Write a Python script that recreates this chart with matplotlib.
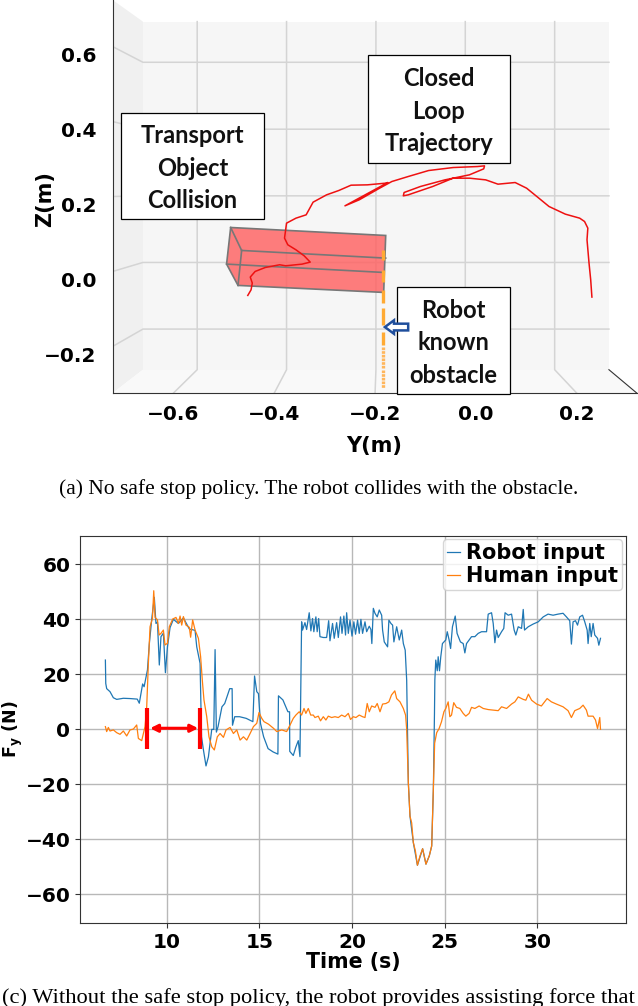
import numpy as np
import matplotlib
matplotlib.use('Agg')
import matplotlib.pyplot as plt
from matplotlib.patches import Polygon, Rectangle, FancyArrow
from matplotlib.transforms import ScaledTranslation

# top panel: trajectory in the Y-Z view (m)
traj_y = [-0.4526,-0.4461,-0.4437,-0.4477,-0.438,-0.4178,-0.3894,-0.3773,-0.3449,-0.3287,-0.3408,-0.357,-0.3732,-0.3797,-0.3757,-0.357,-0.3368,-0.323,-0.2963,-0.272,-0.2477,-0.2153,-0.1789,-0.1748,-0.2598,-0.2315,-0.191,-0.1667,-0.1343,-0.0938,-0.0452,0.0034,0.0172,0.0156,-0.0128,-0.0614,-0.11,-0.1424,-0.144,-0.1343,-0.0857,-0.0452,-0.0128,0.0196,0.0439,0.078,0.1007,0.125,0.1452,0.1776,0.206,0.2157,0.2222,0.2206,0.2246,0.2279,0.2303]
traj_z = [-0.064,-0.049,-0.031,-0.015,0.0,0.0106,0.0178,0.0151,0.0195,0.0249,0.0418,0.0577,0.0711,0.0889,0.1289,0.1422,0.1511,0.1849,0.2044,0.216,0.2302,0.2311,0.2356,0.2373,0.1751,0.1911,0.2222,0.24,0.2533,0.2693,0.2773,0.28,0.2818,0.2738,0.2578,0.2444,0.2267,0.2107,0.2018,0.2044,0.2267,0.2489,0.2489,0.2444,0.2329,0.2373,0.2222,0.1956,0.1733,0.1529,0.1422,0.1333,0.1156,0.0844,0.0222,-0.0222,-0.0684]

box_outline = [(-0.4866,0.1173),(-0.1789,0.096),(-0.1829,-0.056),(-0.472,-0.0373),(-0.4947,0.0196)]
box_edges = [[(-0.4866,0.1173),(-0.4648,0.056)],
             [(-0.4648,0.056),(-0.1789,0.0356)],
             [(-0.4947,0.0196),(-0.1829,-0.0027)],
             [(-0.4648,0.056),(-0.472,-0.0373)]]

obstacle_y = [-0.1837,-0.1837,np.nan,-0.1837,-0.1837,np.nan,-0.1837,-0.1837,np.nan,-0.1837,-0.1837,np.nan,-0.1837,-0.1837]
obstacle_z = [0.0579,0.0312,np.nan,0.0045,-0.0275,np.nan,-0.0488,-0.0835,np.nan,-0.0968,-0.1421,np.nan,-0.1608,-0.1955]
obstacle_y2 = [-0.1837,-0.1837,np.nan,-0.1837,-0.1837]
obstacle_z2 = [-0.2008,-0.2568,np.nan,-0.2621,-0.3101]

y_ticks = [-0.6,-0.4,-0.2,0.0,0.2]
z_ticks = [0.6,0.4,0.2,0.0,-0.2]
back_y = [-0.553,-0.3757,-0.1983,-0.021,0.1564]
back_z = [0.5582,0.3796,0.2018,0.024,-0.1538]

# bottom panel: forces (N) over time (s)
robot_t = [6.69,6.71,6.76,6.94,7.12,7.30,7.66,8.02,8.41,8.52,8.70,8.78,8.96,9.06,9.19,9.33,9.42,9.50,9.60,9.69,9.82,9.93,10.04,10.18,10.36,10.63,10.90,11.22,11.53,11.62,11.80,11.88,11.97,12.12,12.25,12.43,12.54,12.61,12.68,12.77,12.98,13.13,13.40,13.53,13.55,13.67,13.93,14.29,14.65,14.74,14.86,14.95,15.06,15.23,15.47,15.74,16.0,16.03,16.27,16.54,16.63,16.64,16.83,16.97,17.10,17.19,
           17.28,17.33,17.46,17.55,17.69,17.78,17.87,17.94,18.05,18.12,18.20,18.27,18.45,18.63,18.74,18.81,18.95,19.04,19.17,19.26,19.38,19.46,19.56,19.65,19.71,19.80,19.89,20.0,20.10,20.19,20.30,20.39,20.48,20.57,20.70,20.79,20.93,21.02,21.07,21.15,21.24,21.36,21.47,21.60,21.65,21.74,21.92,21.99,22.10,22.19,22.26,22.41,22.55,22.68,22.77,22.87,22.95,
           23.04,23.13,23.31,23.53,23.81,23.99,24.17,24.30,24.39,24.45,24.47,24.52,24.60,24.65,24.72,24.79,24.88,24.96,25.06,25.14,25.24,25.32,25.42,25.57,25.67,25.85,26.0,26.09,26.18,26.32,26.45,26.63,26.81,26.99,27.26,27.35,27.53,27.62,27.71,27.80,27.89,28.07,28.19,28.26,28.43,28.61,28.75,28.84,28.97,29.15,29.24,29.31,29.51,29.78,30.05,30.32,30.58,30.85,31.12,31.39,31.57,31.75,31.84,31.93,32.06,32.17,32.29,32.44,32.56,32.69,32.74,32.83,32.91,33.01,33.10,33.25,33.32,33.41]
robot_f = [25.2,16.7,14.8,13.7,11.5,10.9,11.3,11.2,11,9.5,16.5,15.5,21.6,31,40,48,38.5,39,23.4,33.7,35,20.6,30,37,40,38.5,40.5,36.5,36,30,24,-2.7,-7,-13.3,-10,0,0,29,-1,1,8.2,9.4,14.8,14.8,1.5,4.6,4.6,4,2.8,19.4,13.7,13,2.2,-2.7,-7,-8.2,-9,12.2,10.7,6.4,6.4,-8,-9.5,-6.4,-4.1,-9.9,
           39.1,36.1,38.8,36.3,42.4,35.8,40.3,35.5,40.9,35.5,40.3,33.7,33.4,33.4,39.5,32.2,38.5,33.1,38.8,33.4,40.9,34.9,41.2,34.3,42.4,34.9,39.7,33.9,39.1,34.6,39.7,34.9,40,34.9,39.1,35.5,37.5,36.3,31.2,44,42.2,40.9,43.4,41.5,36.1,31.8,30,39.7,38.5,37.9,31.8,37.3,32.5,36.1,31.2,28.8,17.9,
           -19.5,-31.6,-41.2,-49.4,-43.4,-49,-46,-42.4,-21.9,5.8,17.9,25.2,21.3,26.4,21.3,26.4,31.2,31.8,32.5,35.5,32.5,29.4,37.3,41.2,34.9,31.8,31.2,27.8,31.2,32.5,33.7,33.7,34.9,35.5,35.5,41.9,42.4,38.5,31.5,36.1,33.4,35.5,36.7,42.4,41.5,41.9,36.1,34.3,37.3,36.7,43.6,36.1,37.3,38.3,39.1,40.9,41.9,41.5,41.9,42.2,40.9,39.5,31,39.1,39.5,37.9,40.9,41.5,39.1,36.1,31.2,38.5,33.7,38.5,34.3,33.1,30.6,33.1]

human_t = [6.69,6.76,6.85,6.94,7.12,7.30,7.48,7.66,7.84,8.02,8.20,8.38,8.47,8.65,8.83,8.92,9.01,9.10,9.23,9.30,9.37,9.50,9.59,9.69,9.82,9.91,10.04,10.14,10.32,10.50,10.63,10.72,10.81,10.90,11.04,11.22,11.29,11.40,11.53,11.71,11.83,11.92,12.01,12.16,12.28,12.43,12.57,12.73,12.88,13.06,13.20,13.42,13.60,13.78,13.96,14.14,14.32,14.50,14.68,14.86,14.98,15.13,15.25,15.49,15.76,15.94,16.21,16.47,
           16.65,16.83,16.97,17.15,17.28,17.41,17.51,17.64,17.77,17.91,18.0,18.18,18.30,18.45,18.59,18.72,18.90,19.08,19.26,19.44,19.62,19.80,19.92,20.07,20.21,20.39,20.57,20.70,20.82,20.93,21.06,21.24,21.36,21.51,21.65,21.83,21.99,22.13,22.31,22.41,22.59,22.77,22.89,
           22.95,23.04,23.13,23.22,23.31,23.42,23.53,23.67,23.81,23.99,24.17,24.30,24.39,24.46,24.57,
           24.70,24.83,24.96,25.06,25.19,25.28,25.37,25.49,25.64,25.82,26.0,26.14,26.32,26.45,26.63,26.86,27.08,27.35,27.62,27.89,28.07,28.34,28.61,28.79,28.97,29.24,29.38,29.52,29.69,29.96,30.22,30.53,30.76,31.03,31.39,31.66,31.84,32.02,32.29,32.47,32.65,32.74,33.01,33.14,33.25,33.37,33.41]
human_f = [1.0,-0.8,0.7,-0.6,-0.2,-1.2,-1.8,-0.6,-2.4,-0.2,0.1,1.6,-3.3,-4.1,1.0,8.2,24,37.3,40.4,50.4,40.7,39.8,34.3,34.9,36.1,30.7,31.3,37.3,40.1,40.7,38.5,41.2,37.9,41,37.9,37.1,33.5,39.8,36.1,33.1,26.4,17.9,10.7,4.6,-2.7,-6.3,-7.5,-2.7,-1.5,-2.9,-0.2,0.7,-1.5,-0.2,-3.9,-2.7,-3.9,-1.5,1,2.2,6.1,4,2.8,1.9,0.4,-0.8,-0.2,-0.8,
           1.5,4,5.2,6.4,5.2,7.6,5.8,7.6,5.2,5.2,4.3,4.8,3.1,4.6,3.4,4.8,4.3,4.6,4.3,5.2,4.6,5.8,3.6,4.6,4.3,5.2,4.6,4.3,9.4,6.4,8.5,8,9.4,6.4,9.2,9.4,10,12.5,14,11.2,10,7.6,5.2,
           0,-19.5,-31.6,-34,-41.2,-44.2,-49.4,-46,-43.4,-49,-46,-42.4,-21.9,-5,-1.2,
           0.3,2.8,6.4,7.6,10,4.6,5.2,9.7,8,7.6,5.8,4.8,5.8,8,7.6,8.5,7.6,7.2,7,6.8,8.2,7.6,9.2,10,11.8,10.9,10.6,12.8,10.6,9.2,8.5,11.2,10,9.2,8.2,6.8,4.3,6.8,7.6,8.8,7,4.8,4.8,3.4,0.3,4.3,0]

W, H = 638., 1006.
fig = plt.figure(figsize=(W/100, H/100), dpi=100)

#### TOP PANEL ####
ax = fig.add_axes([112.7/W, (H-393)/H, 524./W, 393./H])
ax.set_xlim(-0.7207, 0.3192)
ax.set_ylim(-0.3244, 0.7244)
for s in ['top', 'right']:
    ax.spines[s].set_visible(False)
ax.spines['left'].set_color('#333333')
ax.spines['bottom'].set_color('#333333')
ax.patch.set_alpha(0)

# panes
xl, xr = -0.7207, 0.3192
zb, zt = -0.3244, 0.7244
bl, br, bb, bt = -0.6607, 0.2641, -0.2622, 0.6667
ax.add_patch(Polygon([(bl, bb), (br, bb), (br, bt), (bl, bt)], fc='#f6f6f6', ec='none', zorder=0))
ax.add_patch(Polygon([(xl, zb), (bl, bb), (bl, bt), (xl, zt)], fc='#f0f0f0', ec='none', zorder=0))
ax.add_patch(Polygon([(xl, zb), (bl, bb), (br, bb), (xr, zb)], fc='#f9f9f9', ec='none', zorder=0))
ax.plot([br, xr], [bb, zb], color='#333333', lw=0.8, clip_on=False, zorder=1)
grid_c = '#d4d4d4'
for i in range(5):
    ax.plot([back_y[i], back_y[i], y_ticks[i]], [bt, bb, zb], color=grid_c, lw=1.1, zorder=1)
    ax.plot([br, bl, xl], [back_z[i], back_z[i], z_ticks[i]], color=grid_c, lw=1.1, zorder=1)

# transport object
ax.add_patch(Polygon(box_outline, fc=(1.0, 0.38, 0.38, 0.82), ec='#777777', lw=1.2, zorder=2))
for e in box_edges:
    ax.plot([e[0][0], e[1][0]], [e[0][1], e[1][1]], color='#777777', lw=1.2, zorder=3)

ax.plot(obstacle_y, obstacle_z, color='#ffaa33', lw=2.4, zorder=3, solid_capstyle='butt')
ax.plot(obstacle_y2, obstacle_z2, color='#ffb65c', lw=2.4, ls=(0, (0.8, 0.3)), zorder=3)
ax.plot(traj_y, traj_z, color='#ee1111', lw=1.1, zorder=4)

boxes = [(-0.7045, 0.1396, 0.2843, 0.2844, 'Transport\nObject\nCollision'),
         (-0.2145, 0.2907, 0.2826, 0.2862, 'Closed\nLoop\nTrajectory'),
         (-0.157, -0.3271, 0.2251, 0.2853, 'Robot\nknown\nobstacle')]
for bx, bz, bw, bh, txt in boxes:
    ax.add_patch(Rectangle((bx, bz), bw, bh, fc='white', ec='black', lw=0.9, zorder=5, clip_on=False))
    ax.text(bx+bw/2, bz+bh/2-0.006, txt, ha='center', va='center', family='Lato', weight='bold',
            size=17, linespacing=1.5, zorder=6, color='#111111')

ax.add_patch(FancyArrow(-0.1343, -0.1484, -0.0462, 0, width=0.018, head_width=0.036, head_length=0.018,
                        length_includes_head=True, fc='white', ec='#1f4e9c', lw=1.8, zorder=7))

ax.set_xticks(y_ticks)
ax.set_yticks(z_ticks)
ax.set_xticklabels(['\u22120.6', '\u22120.4', '\u22120.2', '0.0', '0.2'], weight='bold', size=14.5)
ax.set_yticklabels(['0.6', '0.4', '0.2', '0.0', '\u22120.2'], weight='bold', size=14.5)
ax.tick_params(axis='both', length=0)
ax.tick_params(axis='x', pad=9)
ax.tick_params(axis='y', pad=12)
shift = ScaledTranslation(0, -8.3/100, fig.dpi_scale_trans)
for lab in ax.get_yticklabels():
    lab.set_transform(lab.get_transform()+shift)

fig.text(374/W, 1-446/H, 'Y(m)', ha='center', va='center', weight='bold', size=15)
fig.text(45/W, 1-199/H, 'Z(m)', ha='center', va='center', rotation=90, weight='bold', size=15)

#### BOTTOM PANEL ####
ax2 = fig.add_axes([80/W, (H-923)/H, 545.7/W, 387/H])
ax2.plot(robot_t, robot_f, color='tab:blue', lw=0.9, label='Robot input', zorder=3)
ax2.plot(human_t, human_f, color='tab:orange', lw=0.9, label='Human input', zorder=4)
ax2.set_xlim(5.32, 34.77)
ax2.set_ylim(-70.4, 70.3)
ax2.grid(True, color='#b8b8b8', lw=1)
ax2.set_axisbelow(True)
ax2.set_xticks([10, 15, 20, 25, 30])
ax2.set_yticks([-60, -40, -20, 0, 20, 40, 60])
ax2.tick_params(axis='both', labelsize=14.5, width=0.8, length=3.5, color='#333333')
for lab in ax2.get_xticklabels()+ax2.get_yticklabels():
    lab.set_fontweight('bold')
for s in ax2.spines.values():
    s.set_color('#333333')
ax2.set_xlabel('Time (s)', weight='bold', size=14.8, labelpad=0)
ax2.set_ylabel(r'$\mathbf{F_y}$ (N)', weight='bold', size=12.5)
ax2.yaxis.set_label_coords(-0.1, 0.5)

# delay marker
ax2.plot([8.96, 8.96], [-7.15, 7.9], color='red', lw=3, solid_capstyle='butt', zorder=5)
ax2.plot([11.82, 11.82], [-7.15, 7.9], color='red', lw=3, solid_capstyle='butt', zorder=5)
ax2.annotate('', xy=(9.1, 0.4), xytext=(11.7, 0.4),
             arrowprops=dict(arrowstyle='<|-|>', color='red', lw=2.2, mutation_scale=11, shrinkA=0, shrinkB=0), zorder=5)

leg = ax2.legend(loc='upper right', bbox_to_anchor=(0.9932, 0.992), borderaxespad=0, prop=dict(weight='bold', size=15),
                 handlelength=0.6, handletextpad=0.3, labelspacing=0.14, borderpad=0.2, framealpha=0.8, edgecolor='#cccccc')

#### CAPTIONS ####
fig.text(319/W, 1-489/H, '(a) No safe stop policy. The robot collides with the obstacle.', ha='center', va='center',
         family='Liberation Serif', size=15.5)
fig.text(2/W, 1-998/H, '(c) Without the safe stop policy, the robot provides assisting force that', ha='left', va='center',
         family='Liberation Serif', size=16.2)

plt.savefig('out.png', dpi=100)
